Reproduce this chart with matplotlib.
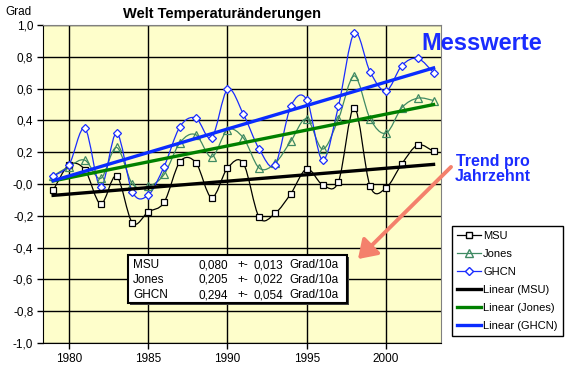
import numpy as np
import matplotlib
matplotlib.use("Agg")
import matplotlib.pyplot as plt
from matplotlib.path import Path
from matplotlib.patches import PathPatch, Rectangle, FancyArrowPatch
from matplotlib.lines import Line2D
import matplotlib.ticker as ticker

plt.rcParams["font.family"] = ["Liberation Sans", "DejaVu Sans"]

years = np.arange(1979, 2004)
msu = [-0.04, 0.12, 0.09, -0.125, 0.05, -0.245, -0.175, -0.115, 0.14, 0.135,
       -0.085, 0.10, 0.13, -0.21, -0.185, -0.06, 0.095, -0.005, 0.015, 0.48,
       -0.015, -0.025, 0.127, 0.245, 0.205]
jones = [0.05, 0.11, 0.15, 0.035, 0.23, 0.0, -0.015, 0.06, 0.26, 0.31,
         0.17, 0.34, 0.29, 0.10, 0.13, 0.27, 0.41, 0.22, 0.41, 0.68,
         0.41, 0.32, 0.48, 0.54, 0.525]
ghcn = [0.05, 0.12, 0.35, -0.02, 0.32, -0.05, -0.07, 0.11, 0.36, 0.415,
        0.29, 0.595, 0.44, 0.22, 0.12, 0.49, 0.53, 0.15, 0.49, 0.95,
        0.705, 0.585, 0.745, 0.79, 0.70]

series_names = ["MSU", "Jones", "GHCN"]
trend_rates = ["0,080", "0,205", "0,294"]
trend_errs = ["0,013", "0,022", "0,054"]

W, H = 565, 377
def fx(px):
    return px / W
def fy(py):
    return 1 - py / H

def smooth_path(x, y):
    # catmull-rom style bezier like Excel's smoothed lines
    pts = np.column_stack([x, y]).astype(float)
    n = len(pts)
    verts = [pts[0]]
    codes = [Path.MOVETO]
    for i in range(n - 1):
        p0 = pts[i - 1] if i > 0 else pts[i]
        p1 = pts[i]
        p2 = pts[i + 1]
        p3 = pts[i + 2] if i + 2 < n else pts[i + 1]
        c1 = p1 + (p2 - p0) / 6.0
        c2 = p2 - (p3 - p1) / 6.0
        verts += [c1, c2, p2]
        codes += [Path.CURVE4] * 3
    return Path(verts, codes)

fig = plt.figure(figsize=(5.65, 3.77), dpi=100)
ax = fig.add_axes([fx(43), fy(343), fx(441) - fx(43), fy(25) - fy(343)])
ax.set_facecolor("#FEFECB")

ax.set_xlim(1978.36, 2003.47)
ax.set_ylim(-1.0, 1.0)
ax.set_yticks(np.round(np.arange(-1.0, 1.01, 0.2), 1))
ax.set_xticks([1980, 1985, 1990, 1995, 2000])
ax.yaxis.set_major_formatter(ticker.FuncFormatter(lambda v, p: f"{v:.1f}".replace(".", ",")))
ax.grid(True, color="black", lw=1)
ax.set_axisbelow(True)
ax.tick_params(direction="out", length=4, width=1, labelsize=8.5, pad=3)
for s in ["top", "right"]:
    ax.spines[s].set_color("#808080")
for s in ["left", "bottom"]:
    ax.spines[s].set_color("black")

c_msu, c_jones, c_ghcn = "black", "#3f8a63", "#1a2cff"
styles = [(msu, c_msu, "s", "white", 5),
          (jones, c_jones, "^", "none", 5.5),
          (ghcn, c_ghcn, "D", "white", 4.5)]
handles = []
for (vals, col, mk, fc, ms), name in zip(styles, series_names):
    ax.add_patch(PathPatch(smooth_path(years, vals), fc="none", ec=col, lw=0.9, zorder=3))
    ax.plot(years, vals, ls="none", marker=mk, ms=ms, mfc=fc, mec=col, mew=0.9, zorder=4)
    handles.append(Line2D([], [], color=col, lw=0.9, marker=mk, ms=ms, mfc=fc, mec=col))

trend_cols = ["black", "#008000", "#0a2cff"]
for vals, col, name in zip([msu, jones, ghcn], trend_cols, series_names):
    k, d = np.polyfit(years, vals, 1)
    ax.plot(years, k * years + d, color=col, lw=2.4, zorder=5)
    handles.append(Line2D([], [], color=col, lw=2.4))

labels = series_names + [f"Linear ({n})" for n in series_names]
leg = fig.legend(handles, labels, loc="upper left", bbox_to_anchor=(fx(452), fy(226)),
                 fontsize=8, frameon=True, fancybox=False, edgecolor="black",
                 framealpha=1, handlelength=2.2, handletextpad=0.15,
                 labelspacing=0.72, borderpad=0.45, borderaxespad=0)
leg.get_frame().set_linewidth(1)

fig.text(fx(222), fy(14), "Welt Temperaturänderungen", ha="center", va="center",
         fontsize=10.5, fontweight="bold")
fig.text(fx(5), fy(12), "Grad", ha="left", va="center", fontsize=8.5)
fig.text(fx(482), fy(43), "Messwerte", ha="center", va="center", fontsize=17,
         fontweight="bold", color="#1a2cff")
fig.text(fx(493), fy(169), "Trend pro\nJahrzehnt", ha="center", va="center",
         fontsize=11.5, fontweight="bold", color="#1a2cff", linespacing=1.05)

# table box with shadow
fig.add_artist(Rectangle((fx(130), fy(305)), fx(347) - fx(128), fy(255) - fy(303),
                         transform=fig.transFigure, fc="#404040", ec="none", zorder=6))
fig.add_artist(Rectangle((fx(128), fy(303)), fx(347) - fx(128), fy(255) - fy(303),
                         transform=fig.transFigure, fc="white", ec="black", lw=1.5, zorder=7))
for i, name in enumerate(series_names):
    y = fy(265 + 15 * i)
    fig.text(fx(133), y, name, va="center", fontsize=8.5, zorder=8)
    fig.text(fx(228), y, trend_rates[i], va="center", ha="right", fontsize=8.5, zorder=8)
    fig.text(fx(237), y, "+-", va="center", fontsize=8.5, zorder=8)
    fig.text(fx(283), y, trend_errs[i], va="center", ha="right", fontsize=8.5, zorder=8)
    fig.text(fx(289), y, "Grad/10a", va="center", fontsize=8.5, zorder=8)

fig.add_artist(FancyArrowPatch((fx(453), fy(165)), (fx(356), fy(261)), transform=fig.transFigure,
                               arrowstyle="-|>,head_length=0.6,head_width=0.4", mutation_scale=18,
                               color="#F4806C", lw=2.8, zorder=9))

fig.savefig("out.png", dpi=100)
